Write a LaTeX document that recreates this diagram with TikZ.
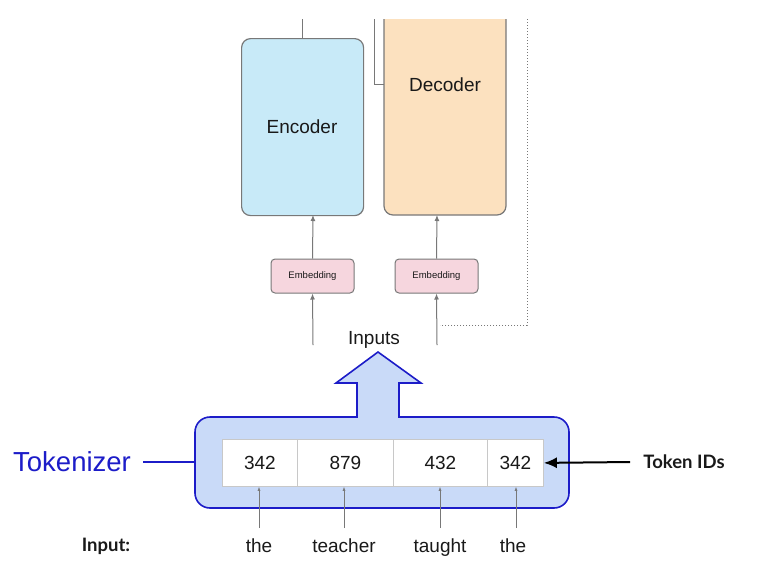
\documentclass[tikz,border=0pt]{standalone}
\usepackage{fontspec}
\setmainfont{Liberation Sans}
\newfontfamily\latofont{Lato}
\usetikzlibrary{arrows.meta}
\definecolor{encfill}{RGB}{200,234,248}
\definecolor{decfill}{RGB}{252,225,191}
\definecolor{embfill}{RGB}{246,214,222}
\definecolor{tokfill}{RGB}{201,218,248}
\definecolor{tokblue}{RGB}{28,28,200}
\definecolor{boxgray}{RGB}{120,120,120}
\definecolor{cellgray}{RGB}{200,200,200}
\definecolor{txt}{RGB}{25,25,25}
\tikzset{
  blk/.style={draw=boxgray, line width=1.2pt, rounded corners=9pt, inner sep=0pt},
  emb/.style={draw=boxgray, line width=1pt, fill=embfill, rounded corners=4pt, inner sep=0pt, minimum width=83pt, minimum height=34pt, font=\fontsize{9.5}{11}\selectfont, text=txt},
  conn/.style={draw=boxgray, line width=1pt},
  upar/.style={conn, -{Latex[length=6pt,width=5pt]}},
  smallar/.style={draw=boxgray, line width=0.6pt, -{Latex[length=4pt,width=3pt]}},
  lbl/.style={inner sep=0pt, text=txt, font=\fontsize{19}{22}\selectfont},
  cell/.style={draw=cellgray, line width=0.8pt, fill=white, inner sep=0pt, minimum height=47pt, font=\fontsize{19}{22}\selectfont, text=txt},
  boldlbl/.style={inner sep=0pt, text=txt, font=\latofont\bfseries\fontsize{18.5}{21}\selectfont},
}
\begin{document}
\begin{tikzpicture}[x=1pt,y=-1pt]
\useasboundingbox (0,0) rectangle (762,571);
% encoder / decoder
\node[blk, fill=encfill, minimum width=122pt, minimum height=177pt, anchor=north west] (enc) at (241,38) {};
\node[lbl] (enct) at (302,127) {Encoder};
\fill[decfill, rounded corners=9pt] (384,19) -- (384,215) -- (506,215) [sharp corners] -- (506,19) -- cycle;
\draw[boxgray, line width=1.2pt, rounded corners=9pt] (384,19) -- (384,215) -- (506,215) [sharp corners] -- (506,19);
\coordinate (decl) at (384,84);
\coordinate (decb) at (437,215);
\node[lbl] (dect) at (445,85) {Decoder};
% top lines
\coordinate (enctop) at (302,19);
\draw[conn] (enc.north -| enctop) -- (enctop);
\coordinate (skipt) at (374,19);
\draw[conn] (skipt) |- (decl);
% dotted feedback
\coordinate (dt) at (527,19);
\coordinate (dc) at (527,325);
\coordinate (de) at (440,325);
\draw[boxgray, line width=1pt, dotted] (dt) -- (dc) -- (de);
% embeddings
\node[emb] (emb1) at (312.5,276) {Embedding};
\node[emb] (emb2) at (436.5,276) {Embedding};
\coordinate (encb) at (313,215);
\draw[upar] (emb1.north) -- (encb);
\draw[upar] (emb2.north) -- (decb);
\coordinate (in1) at (313,345);
\coordinate (in2) at (437,345);
\draw[upar] (in1) -- (emb1.south);
\draw[upar] (in2) -- (emb2.south);
\node[lbl] (inputs) at (374,340) {Inputs};
% tokenizer box with block arrow
\draw[tokblue, fill=tokfill, line width=1.6pt]
  (357,417) [sharp corners] -- (357,383) -- (336,383) -- (378,352) -- (421,383) -- (399,383) -- (399,417)
  [rounded corners=15pt] -- (569,417) -- (569,508) -- (195,508) -- (195,417) [sharp corners] -- cycle;
\coordinate (tokl) at (195,462);
% table
\node[cell, minimum width=75pt, anchor=north west] (c1) at (222,439) {342};
\node[cell, minimum width=96pt, anchor=north west] (c2) at (297,439) {879};
\node[cell, minimum width=94pt, anchor=north west] (c3) at (393,439) {432};
\node[cell, minimum width=56pt, anchor=north west] (c4) at (487,439) {342};
% words
\node[lbl, anchor=base] (w1) at (259,552) {the};
\node[lbl, anchor=base] (w2) at (344,552) {teacher};
\node[lbl, anchor=base] (w3) at (440,552) {taught};
\node[lbl, anchor=base] (w4) at (513,552) {the};
\coordinate (a1) at (259,528);
\coordinate (a2) at (344,528);
\coordinate (a3) at (440,528);
\coordinate (a4) at (516,528);
\draw[smallar] (a1) -- (a1 |- c1.south);
\draw[smallar] (a2) -- (a2 |- c2.south);
\draw[smallar] (a3) -- (a3 |- c3.south);
\draw[smallar] (a4) -- (a4 |- c4.south);
% side labels
\node[inner sep=0pt, text=tokblue, font=\fontsize{27.5}{31}\selectfont] (tok) at (72,462) {Tokenizer};
\coordinate (tokline) at (143,462);
\draw[tokblue, line width=1.6pt] (tokline) -- (tokl);
\node[boldlbl] (tids) at (684,462) {Token IDs};
\coordinate (tidl) at (630,462);
\draw[black, line width=2pt, -{Latex[length=13pt,width=11pt]}] (tidl) -- (c4.east);
\node[boldlbl] (inp) at (106,546) {Input:};
\end{tikzpicture}
\end{document}
